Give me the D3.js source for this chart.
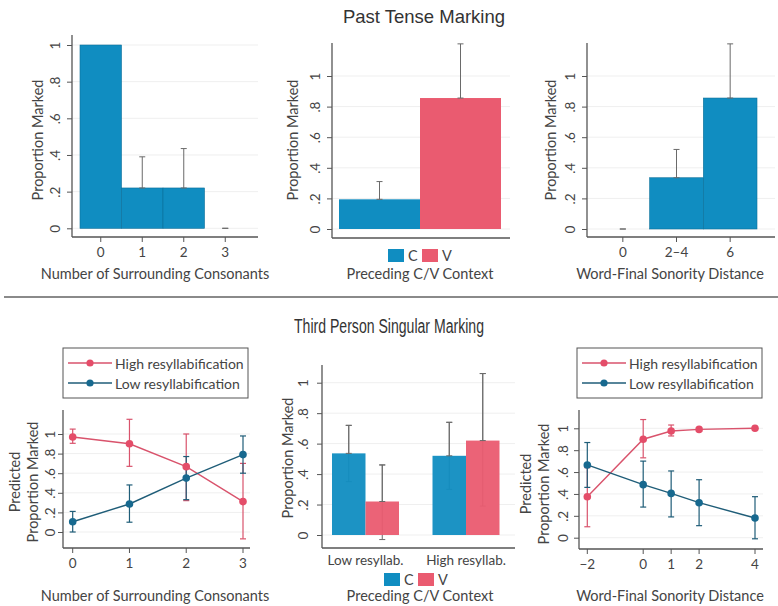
<!DOCTYPE html>
<html>
<head>
<meta charset="utf-8">
<script src="https://cdn.jsdelivr.net/npm/d3@7"></script>
<style>
  html, body { margin: 0; padding: 0; background: #fff; }
  svg { display: block; }
  .ttl { font-family: "Liberation Sans", Arial, sans-serif; fill: #333; }
  .lbl { font-family: Lato, "Open Sans", sans-serif; fill: #444; }
</style>
</head>
<body>
<svg id="chart" width="778" height="606"></svg>
<script>
// ---- Past tense marking ----
const pastConsCats = ["0", "1", "2", "3"];
const pastConsVals = [1, 0.22, 0.22, 0];
const pastConsLo   = [null, 0.05, 0.01, 0];
const pastConsHi   = [null, 0.39, 0.435, 0];

const pastCVCats = ["C", "V"];
const pastCVVals = [0.194, 0.856];
const pastCVLo   = [0.08, 0.50];
const pastCVHi   = [0.31, 1.21];

const pastSonCats = ["0", "2\u20134", "6"];
const pastSonVals = [0, 0.335, 0.856];
const pastSonLo   = [0, 0.15, 0.50];
const pastSonHi   = [0, 0.52, 1.21];

// ---- Third person singular marking ----
const seriesNames = ["High resyllabification", "Low resyllabification"];

const tpsConsX      = [0, 1, 2, 3];
const tpsConsHigh   = [0.97, 0.90, 0.667, 0.31];
const tpsConsHighLo = [0.905, 0.67, 0.32, -0.07];
const tpsConsHighHi = [1.05, 1.15, 1.0, 0.70];
const tpsConsLow    = [0.105, 0.286, 0.55, 0.79];
const tpsConsLowLo  = [0.0, 0.10, 0.33, 0.60];
const tpsConsLowHi  = [0.21, 0.48, 0.77, 0.98];

const tpsGroups = ["Low resyllab.", "High resyllab."];
const tpsCVKeys = ["C", "V"];
const tpsCVC    = [0.536, 0.52];
const tpsCVCLo  = [0.35, 0.30];
const tpsCVCHi  = [0.72, 0.74];
const tpsCVV    = [0.22, 0.62];
const tpsCVVLo  = [-0.03, 0.19];
const tpsCVVHi  = [0.46, 1.06];

const tpsSonX      = [-2, 0, 1, 2, 4];
const tpsSonHigh   = [0.375, 0.90, 0.975, 0.99, 1.0];
const tpsSonHighLo = [0.10, 0.73, 0.93, 0.975, 0.99];
const tpsSonHighHi = [0.64, 1.08, 1.03, 1.005, 1.01];
const tpsSonLow    = [0.665, 0.485, 0.405, 0.32, 0.18];
const tpsSonLowLo  = [0.46, 0.28, 0.19, 0.11, -0.01];
const tpsSonLowHi  = [0.87, 0.70, 0.61, 0.53, 0.375];

const yTicks = [0, 0.2, 0.4, 0.6, 0.8, 1];

const BAR_BLUE = "#108dc1";
const BAR_PINK = "#ea5b70";
const LINE_PINK = "#d9536c";
const DOT_PINK = "#e44d69";
const LINE_BLUE = "#1f5d78";
const DOT_BLUE = "#17698f";
const AXIS = "#555";
const ERR = "#6a6a6a";

const svg = d3.select("#chart");
const fmt = d => d === 0 ? "0" : d === 1 ? "1" : d3.format(".1f")(d).replace(/^0/, "");

// Frame: vertical axis (rotated tick labels), gridlines, bottom axis line, titles
function frame(p) {
  const g = svg.append("g");
  g.selectAll("line.grid").data(yTicks).join("line")
    .attr("x1", p.x0).attr("x2", p.x1)
    .attr("y1", d => p.y(d)).attr("y2", d => p.y(d))
    .attr("stroke", "#efefef").attr("stroke-width", 1);

  const ax = g.append("g").attr("transform", `translate(${p.x0},0)`)
    .call(d3.axisLeft(p.y).tickValues(yTicks).tickSize(5).tickFormat(fmt));
  ax.select(".domain").remove();
  ax.selectAll(".tick line").attr("stroke", AXIS);
  ax.selectAll(".tick text")
    .attr("class", "lbl")
    .attr("x", null).attr("dy", null)
    .attr("transform", `translate(${p.labelX - p.x0},0) rotate(-90)`)
    .attr("text-anchor", "middle")
    .attr("dominant-baseline", "central")
    .style("font-size", "13.5px").style("fill", "#444");
  ax.attr("font-family", null).attr("font-size", null);

  g.append("line").attr("x1", p.x0).attr("x2", p.x0).attr("y1", p.yTop).attr("y2", p.yBot)
    .attr("stroke", AXIS).attr("stroke-width", 1.3);
  g.append("line").attr("x1", p.x0).attr("x2", p.x1).attr("y1", p.yBot).attr("y2", p.yBot)
    .attr("stroke", AXIS).attr("stroke-width", 1.3);

  p.ytitle.forEach((t, i) => {
    svg.append("text").attr("class", "lbl")
      .attr("transform", `translate(${p.ytitleX[i]},${p.ytitleY}) rotate(-90)`)
      .attr("text-anchor", "middle").attr("dominant-baseline", "central")
      .style("font-size", "14.5px").text(t);
  });
  svg.append("text").attr("class", "lbl")
    .attr("x", p.xtitleX).attr("y", p.xtitleY)
    .attr("text-anchor", "middle").style("font-size", "14.5px").text(p.xtitle);
  return g;
}

function bottomAxis(p, scale, values, labels) {
  const ax = svg.append("g").attr("transform", `translate(0,${p.yBot})`)
    .call(d3.axisBottom(scale).tickValues(values).tickSize(5)
      .tickFormat((d, i) => labels[i]).offset(0));
  ax.select(".domain").remove();
  ax.selectAll(".tick line").attr("stroke", AXIS);
  ax.selectAll(".tick text").attr("class", "lbl")
    .attr("y", 10).attr("dy", "0.71em")
    .style("font-size", "13.5px").style("font-family", "Lato, sans-serif").style("fill", "#444");
  ax.attr("font-family", null).attr("font-size", null);
  return ax;
}

function errBars(g, xs, lo, hi, y, color, cap, width) {
  xs.forEach((x, i) => {
    if (lo[i] == null) return;
    g.append("line").attr("x1", x).attr("x2", x).attr("y1", y(lo[i])).attr("y2", y(hi[i]))
      .attr("stroke", color).attr("stroke-width", width);
    [lo[i], hi[i]].forEach(v => {
      g.append("line").attr("x1", x - cap).attr("x2", x + cap).attr("y1", y(v)).attr("y2", y(v))
        .attr("stroke", color).attr("stroke-width", width);
    });
  });
}

function legendBox(x0, x1, y0, y1, lineX, textX) {
  svg.append("rect").attr("x", x0).attr("y", y0).attr("width", x1 - x0).attr("height", y1 - y0)
    .attr("fill", "#fff").attr("stroke", "#555").attr("stroke-width", 1);
  const rows = [
    { name: seriesNames[0], line: LINE_PINK, dot: DOT_PINK },
    { name: seriesNames[1], line: LINE_BLUE, dot: DOT_BLUE }
  ];
  rows.forEach((r, i) => {
    const yy = y0 + 15 + i * 20;
    svg.append("line").attr("x1", lineX).attr("x2", lineX + 44).attr("y1", yy).attr("y2", yy)
      .attr("stroke", r.line).attr("stroke-width", 1.5);
    svg.append("circle").attr("cx", lineX + 22).attr("cy", yy).attr("r", 3.6).attr("fill", r.dot);
    svg.append("text").attr("class", "lbl").attr("x", textX).attr("y", yy)
      .attr("dominant-baseline", "central").style("font-size", "14px").text(r.name);
  });
}

function swatchLegend(cx, y0) {
  const items = [{ k: "C", c: BAR_BLUE }, { k: "V", c: BAR_PINK }];
  items.forEach((it, i) => {
    const x = cx + i * 34;
    svg.append("rect").attr("x", x).attr("y", y0).attr("width", 16).attr("height", 13).attr("fill", it.c);
    svg.append("text").attr("class", "lbl").attr("x", x + 20).attr("y", y0 + 6.5)
      .attr("dominant-baseline", "central").style("font-size", "14.5px").text(it.k);
  });
}

// ================= Titles and divider =================
svg.append("text").attr("class", "ttl").attr("x", 424).attr("y", 23)
  .attr("text-anchor", "middle").style("font-size", "18.5px").text("Past Tense Marking");
svg.append("line").attr("x1", 4).attr("x2", 778).attr("y1", 297).attr("y2", 297)
  .attr("stroke", "#8a8a8a").attr("stroke-width", 2);
svg.append("text").attr("class", "ttl").attr("x", 389).attr("y", 333)
  .attr("text-anchor", "middle").style("font-size", "19.5px")
  .attr("textLength", 190).attr("lengthAdjust", "spacingAndGlyphs")
  .text("Third Person Singular Marking");

// ================= Panel 1: past tense x consonants =================
{
  const p = { x0: 72, x1: 258, yTop: 35, yBot: 237, labelX: 55,
    y: d3.scaleLinear().domain([0, 1]).range([228.3, 45]),
    ytitle: ["Proportion Marked"], ytitleX: [37], ytitleY: 140,
    xtitle: "Number of Surrounding Consonants", xtitleX: 155, xtitleY: 279 };
  const g = frame(p);
  const x = d3.scaleBand().domain(pastConsCats).range([80, 246]).padding(0);
  const cx = pastConsCats.map(c => x(c) + x.bandwidth() / 2);
  g.selectAll("rect.bar").data(pastConsVals).join("rect")
    .attr("x", (d, i) => x(pastConsCats[i])).attr("width", x.bandwidth())
    .attr("y", d => p.y(d)).attr("height", d => p.y(0) - p.y(d))
    .attr("fill", BAR_BLUE).attr("stroke", "#0b6f99").attr("stroke-width", 0.6);
  errBars(g, cx,
    pastConsVals.map((v, i) => pastConsLo[i] == null ? null : Math.max(v, pastConsLo[i])),
    pastConsHi, p.y, ERR, 3, 1);
  bottomAxis(p, x, pastConsCats, pastConsCats);
}

// ================= Panel 2: past tense x C/V =================
{
  const p = { x0: 332, x1: 510, yTop: 43, yBot: 238, labelX: 315,
    y: d3.scaleLinear().domain([0, 1]).range([229, 76]),
    ytitle: ["Proportion Marked"], ytitleX: [292], ytitleY: 140,
    xtitle: "Preceding C/V Context", xtitleX: 420, xtitleY: 279 };
  const g = frame(p);
  const x = d3.scaleBand().domain(pastCVCats).range([339, 501]).padding(0);
  const cols = [BAR_BLUE, BAR_PINK];
  g.selectAll("rect.bar").data(pastCVVals).join("rect")
    .attr("x", (d, i) => x(pastCVCats[i])).attr("width", x.bandwidth())
    .attr("y", d => p.y(d)).attr("height", d => p.y(0) - p.y(d))
    .attr("fill", (d, i) => cols[i]);
  errBars(g, pastCVCats.map(c => x(c) + x.bandwidth() / 2),
    pastCVVals.map((v, i) => Math.max(v, pastCVLo[i])), pastCVHi, p.y, ERR, 3, 1);
  swatchLegend(388, 249);
}

// ================= Panel 3: past tense x sonority =================
{
  const p = { x0: 587, x1: 775, yTop: 43, yBot: 237, labelX: 570,
    y: d3.scaleLinear().domain([0, 1]).range([229, 76]),
    ytitle: ["Proportion Marked"], ytitleX: [550], ytitleY: 140,
    xtitle: "Word-Final Sonority Distance", xtitleX: 670, xtitleY: 279 };
  const g = frame(p);
  const x = d3.scaleBand().domain(pastSonCats).range([596, 757]).padding(0);
  g.selectAll("rect.bar").data(pastSonVals).join("rect")
    .attr("x", (d, i) => x(pastSonCats[i])).attr("width", x.bandwidth())
    .attr("y", d => p.y(d)).attr("height", d => p.y(0) - p.y(d))
    .attr("fill", BAR_BLUE).attr("stroke", "#0b6f99").attr("stroke-width", 0.6);
  errBars(g, pastSonCats.map(c => x(c) + x.bandwidth() / 2),
    pastSonVals.map((v, i) => Math.max(v, pastSonLo[i])), pastSonHi, p.y, ERR, 3, 1);
  bottomAxis(p, x, pastSonCats, pastSonCats);
}

// Line panels: predicted proportions with confidence intervals
function linePanel(p, xs, hi, hiLo, hiHi, lo, loLo, loHi) {
  const g = frame(p);
  const line = d3.line().x((d, i) => p.x(xs[i])).y(d => p.y(d));
  const px = xs.map(v => p.x(v));
  errBars(g, px, hiLo, hiHi, p.y, LINE_PINK, 3, 1.2);
  errBars(g, px, loLo, loHi, p.y, LINE_BLUE, 3, 1.2);
  g.append("path").datum(hi).attr("d", line).attr("fill", "none").attr("stroke", LINE_PINK).attr("stroke-width", 1.4);
  g.append("path").datum(lo).attr("d", line).attr("fill", "none").attr("stroke", LINE_BLUE).attr("stroke-width", 1.4);
  g.selectAll("circle.hi").data(hi).join("circle")
    .attr("cx", (d, i) => px[i]).attr("cy", d => p.y(d)).attr("r", 3.8).attr("fill", DOT_PINK);
  g.selectAll("circle.lo").data(lo).join("circle")
    .attr("cx", (d, i) => px[i]).attr("cy", d => p.y(d)).attr("r", 3.8).attr("fill", DOT_BLUE);
  bottomAxis(p, p.x, xs, xs.map(v => v < 0 ? "\u2212" + Math.abs(v) : String(v)));
}

// ================= Panel 4: 3sg x consonants =================
{
  const p = { x0: 63, x1: 250, yTop: 410, yBot: 548, labelX: 50,
    y: d3.scaleLinear().domain([0, 1]).range([532, 434]),
    x: d3.scaleLinear().domain([0, 3]).range([72.7, 243]),
    ytitle: ["Predicted", "Proportion Marked"], ytitleX: [14, 32], ytitleY: 482,
    xtitle: "Number of Surrounding Consonants", xtitleX: 155, xtitleY: 601 };
  linePanel(p, tpsConsX, tpsConsHigh, tpsConsHighLo, tpsConsHighHi, tpsConsLow, tpsConsLowLo, tpsConsLowHi);
  legendBox(63, 248, 348, 398, 68, 115);
}

// ================= Panel 5: 3sg x C/V by resyllabification =================
{
  const p = { x0: 322, x1: 515, yTop: 365, yBot: 548, labelX: 303,
    y: d3.scaleLinear().domain([0, 1]).range([535, 382.7]),
    ytitle: ["Proportion Marked"], ytitleX: [287], ytitleY: 458,
    xtitle: "Preceding C/V Context", xtitleX: 420, xtitleY: 601 };
  const g = frame(p);
  const x0 = d3.scaleBand().domain(tpsGroups).range([332, 499.5]).paddingInner(1 / 3).paddingOuter(0);
  const x1 = d3.scaleBand().domain(tpsCVKeys).range([0, x0.bandwidth()]).padding(0);
  const vals = { C: tpsCVC, V: tpsCVV };
  const los = { C: tpsCVCLo, V: tpsCVVLo };
  const his = { C: tpsCVCHi, V: tpsCVVHi };
  const cols = { C: BAR_BLUE, V: BAR_PINK };
  tpsCVKeys.forEach(k => {
    const cx = tpsGroups.map(gname => x0(gname) + x1(k) + x1.bandwidth() / 2);
    errBars(g, cx, los[k], his[k], p.y, ERR, 3, 1);
  });
  tpsCVKeys.forEach(k => {
    g.selectAll("rect.b" + k).data(vals[k]).join("rect")
      .attr("x", (d, i) => x0(tpsGroups[i]) + x1(k)).attr("width", x1.bandwidth())
      .attr("y", d => p.y(d)).attr("height", d => p.y(0) - p.y(d))
      .attr("fill", cols[k]).attr("fill-opacity", 0.95);
  });
  tpsCVKeys.forEach(k => {
    const cx = tpsGroups.map(gname => x0(gname) + x1(k) + x1.bandwidth() / 2);
    errBars(g, cx, vals[k].map((v, i) => Math.max(v, los[k][i])), his[k], p.y, ERR, 3, 1);
  });
  const ax = svg.append("g").attr("transform", `translate(0,${p.yBot})`)
    .call(d3.axisBottom(x0).tickSize(0));
  ax.select(".domain").remove();
  ax.selectAll(".tick text").attr("class", "lbl").attr("y", 7).attr("dy", "0.71em")
    .style("font-size", "13.5px").style("font-family", "Lato, sans-serif").style("fill", "#444");
  ax.attr("font-family", null).attr("font-size", null);
  swatchLegend(384, 573);
}

// ================= Panel 6: 3sg x sonority =================
{
  const p = { x0: 579, x1: 763, yTop: 410, yBot: 549, labelX: 563,
    y: d3.scaleLinear().domain([0, 1]).range([537.7, 428.3]),
    x: d3.scaleLinear().domain([-2, 4]).range([587.3, 755]),
    ytitle: ["Predicted", "Proportion Marked"], ytitleX: [525, 543], ytitleY: 484,
    xtitle: "Word-Final Sonority Distance", xtitleX: 670, xtitleY: 601 };
  linePanel(p, tpsSonX, tpsSonHigh, tpsSonHighLo, tpsSonHighHi, tpsSonLow, tpsSonLowLo, tpsSonLowHi);
  legendBox(577, 762, 348, 398, 582, 629);
}
</script>
</body>
</html>
